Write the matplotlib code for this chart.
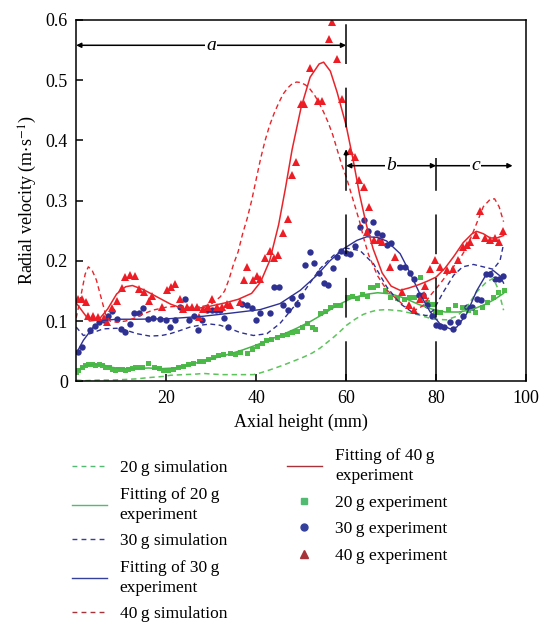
import matplotlib.pyplot as plt
from matplotlib.lines import Line2D

plt.rcParams['font.family'] = ['Liberation Serif', 'DejaVu Serif']
plt.rcParams['mathtext.fontset'] = 'stix'

# ---- data ----
# 20 g
sim20_x = [0, 2, 5, 8, 11, 13.5, 16, 19.4, 21, 24, 26.8, 28.3, 30, 32.7, 35, 37, 39.4, 41, 43.1,
           45, 46.8, 48.5, 50.5, 52.5, 54.2, 55.7, 57.2, 58.7, 60.1, 62, 63.8, 65.3, 66.8, 69, 72,
           75.7, 79.4, 82.4, 84.6, 86.8, 89, 91.2, 92.7, 93.8, 95]
sim20_y = [0.002, 0.001, 0.002, 0.002, 0.003, 0.004, 0.006, 0.008, 0.010, 0.011, 0.012, 0.013, 0.012,
           0.011, 0.011, 0.011, 0.011, 0.014, 0.019, 0.024, 0.029, 0.034, 0.040, 0.047, 0.055, 0.064,
           0.073, 0.083, 0.093, 0.103, 0.111, 0.115, 0.118, 0.119, 0.117, 0.111, 0.103, 0.102, 0.108,
           0.123, 0.148, 0.165, 0.171, 0.153, 0.118]
fit20_x = [0, 2, 4, 6, 8, 10, 13, 16, 19, 22, 25, 28, 31, 34, 37, 40, 43, 46, 49, 52, 55, 58, 61,
           64, 67, 70, 73, 76, 79, 82, 85, 88, 91, 93, 95]
fit20_y = [0.016, 0.026, 0.028, 0.027, 0.023, 0.021, 0.021, 0.022, 0.021, 0.022, 0.027, 0.033, 0.039,
           0.045, 0.052, 0.060, 0.069, 0.078, 0.088, 0.099, 0.112, 0.126, 0.137, 0.144, 0.147, 0.145,
           0.138, 0.128, 0.120, 0.115, 0.115, 0.119, 0.128, 0.136, 0.146]
exp20_x = [0, 0.5, 1.3, 2, 2.7, 3.5, 4.2, 5, 5.7, 6.4, 7.2, 7.9, 8.7, 9.4, 10.1, 10.9, 11.6, 12.4,
           13.1, 13.9, 14.6, 15.9, 17.2, 18.3, 19.4, 20.5, 21.6, 22.7, 23.8, 24.9, 26, 27.2, 28.3,
           29.4, 30.5, 31.6, 32.7, 34.2, 35.3, 36.4, 37.9, 39, 40.1, 41.2, 42.3, 43.4, 44.6, 45.7,
           46.8, 47.9, 49, 50.1, 51.3, 52.4, 53.1, 54.2, 55.3, 56.4, 57.5, 58.7, 60.1, 61.2, 62.4,
           63.5, 64.6, 65.3, 66, 66.8, 68.6, 69.8, 71.3, 72.8, 73.9, 75, 76.4, 77.9, 79, 79.8, 80.9,
           82.7, 84.2, 85.7, 87.2, 88.7, 90.2, 91.3, 92.7, 93.8, 95]
exp20_y = [0.015, 0.018, 0.023, 0.027, 0.028, 0.028, 0.027, 0.028, 0.027, 0.024, 0.023, 0.020, 0.019,
           0.020, 0.020, 0.019, 0.020, 0.022, 0.023, 0.023, 0.023, 0.030, 0.023, 0.022, 0.019, 0.018,
           0.020, 0.023, 0.025, 0.028, 0.030, 0.033, 0.034, 0.037, 0.040, 0.043, 0.045, 0.047, 0.045,
           0.049, 0.047, 0.053, 0.059, 0.064, 0.068, 0.070, 0.073, 0.076, 0.078, 0.081, 0.084, 0.090,
           0.096, 0.090, 0.087, 0.113, 0.117, 0.123, 0.126, 0.127, 0.140, 0.142, 0.139, 0.145, 0.142,
           0.157, 0.156, 0.160, 0.151, 0.140, 0.139, 0.137, 0.140, 0.140, 0.173, 0.132, 0.129, 0.115,
           0.115, 0.120, 0.127, 0.123, 0.118, 0.115, 0.123, 0.132, 0.140, 0.148, 0.151]

# 30 g
sim30_x = [0, 1.6, 3.1, 6, 9, 11, 13.5, 16.4, 19, 20.9, 23, 25.3, 27.5, 29.8, 32, 34, 36.4, 39.4,
           42.4, 45.3, 48.3, 51.3, 54.2, 57.2, 60.1, 63.1, 66.1, 69, 72, 75, 77.9, 79.4, 81.6, 83.9,
           85.9, 88.3, 90.5, 92.7, 94.2, 95]
sim30_y = [0.090, 0.076, 0.079, 0.087, 0.088, 0.085, 0.079, 0.075, 0.076, 0.079, 0.084, 0.090, 0.093,
           0.095, 0.093, 0.088, 0.081, 0.076, 0.079, 0.096, 0.123, 0.156, 0.187, 0.209, 0.221, 0.217,
           0.195, 0.157, 0.129, 0.113, 0.109, 0.118, 0.148, 0.176, 0.190, 0.194, 0.190, 0.186, 0.200,
           0.228]
fit30_x = [0, 1.6, 3.8, 6, 9, 13.5, 20.9, 28.3, 34.2, 40.9, 45.3, 49.8, 53.5, 56.4, 59.4, 62.4,
           64.6, 66.8, 69, 72, 74.2, 76.4, 78.7, 80.9, 83.1, 84.6, 86.8, 89, 91.2, 92.7, 94.2, 95]
fit30_y = [0.046, 0.068, 0.090, 0.101, 0.103, 0.103, 0.104, 0.108, 0.113, 0.119, 0.129, 0.151, 0.176,
           0.200, 0.220, 0.234, 0.240, 0.239, 0.233, 0.212, 0.180, 0.145, 0.115, 0.095, 0.087, 0.090,
           0.112, 0.150, 0.178, 0.184, 0.175, 0.163]
exp30_x = [0.3, 1.3, 3.1, 4.2, 5, 6.1, 7, 7.9, 9, 10, 10.9, 11.9, 12.9, 13.9, 14.8, 15.9, 17, 18.7,
           20, 20.9, 22, 23.1, 24.1, 25, 26.1, 27, 28, 29, 30.1, 31.1, 32, 32.9, 33.8, 36.8, 37.9,
           39, 40, 40.9, 43, 43.9, 45, 45.9, 47, 47.9, 49, 49.9, 50.9, 52, 52.9, 53.9, 55, 55.9, 57,
           57.9, 58.9, 60, 60.9, 62, 63.1, 63.9, 64.8, 65.9, 66.8, 67.9, 69, 70, 72, 73, 74.1, 75,
           76.1, 77, 77.9, 79, 80, 80.9, 81.8, 83, 83.8, 84.9, 86, 86.9, 87.9, 89, 89.9, 91, 92, 93,
           93.9, 94.9]
exp30_y = [0.048, 0.057, 0.085, 0.091, 0.099, 0.101, 0.108, 0.116, 0.103, 0.087, 0.081, 0.095, 0.113,
           0.113, 0.121, 0.103, 0.105, 0.103, 0.101, 0.090, 0.101, 0.123, 0.137, 0.102, 0.108, 0.085,
           0.102, 0.118, 0.118, 0.118, 0.118, 0.105, 0.090, 0.129, 0.126, 0.122, 0.101, 0.113, 0.113,
           0.156, 0.156, 0.126, 0.119, 0.139, 0.128, 0.141, 0.193, 0.215, 0.196, 0.180, 0.163, 0.160,
           0.188, 0.206, 0.217, 0.213, 0.211, 0.224, 0.257, 0.268, 0.249, 0.264, 0.247, 0.243, 0.226,
           0.230, 0.190, 0.189, 0.179, 0.169, 0.143, 0.143, 0.126, 0.109, 0.094, 0.091, 0.090, 0.098,
           0.087, 0.098, 0.109, 0.123, 0.123, 0.137, 0.135, 0.178, 0.178, 0.169, 0.169, 0.174]

# 40 g
sim40_x = [0, 1, 2, 2.7, 3.5, 4.5, 5.5, 6.5, 7.5, 9, 11, 13, 15, 17, 20, 23, 26, 28, 30, 32, 33,
           34, 35, 36, 37, 38, 39, 40, 41, 42, 43, 44, 45, 46, 47, 48, 49, 50, 51, 52, 53, 54, 55,
           56, 57, 58, 59, 60, 61, 62, 63, 64, 65, 67, 69, 71, 73, 75, 77, 79, 81, 83, 85, 87, 89,
           90.5, 92, 93, 94, 95]
sim40_y = [0.105, 0.140, 0.178, 0.190, 0.185, 0.168, 0.140, 0.112, 0.100, 0.098, 0.100, 0.105, 0.112,
           0.118, 0.123, 0.125, 0.122, 0.124, 0.128, 0.140, 0.150, 0.170, 0.195, 0.215, 0.245, 0.270,
           0.300, 0.335, 0.370, 0.400, 0.425, 0.445, 0.462, 0.477, 0.487, 0.494, 0.497, 0.496, 0.492,
           0.485, 0.475, 0.462, 0.447, 0.430, 0.410, 0.385, 0.360, 0.340, 0.315, 0.290, 0.265, 0.235,
           0.210, 0.175, 0.152, 0.138, 0.125, 0.117, 0.125, 0.145, 0.163, 0.183, 0.200, 0.225, 0.262,
           0.290, 0.302, 0.303, 0.290, 0.265]
fit40_x = [0, 1.5, 3, 5, 7, 9, 11, 12.5, 15, 18, 21, 24, 27, 30, 33, 36, 39, 41, 43, 45, 46.5, 48,
           50, 52, 54, 55, 56.5, 58, 60, 61.5, 63, 64.5, 66, 68, 70, 72, 74, 76, 78, 80, 82, 84, 86,
           88, 89, 90.5, 92, 93.5, 95]
fit40_y = [0.130, 0.115, 0.100, 0.102, 0.120, 0.145, 0.157, 0.159, 0.152, 0.140, 0.128, 0.120, 0.121,
           0.125, 0.130, 0.136, 0.146, 0.165, 0.200, 0.260, 0.320, 0.385, 0.455, 0.505, 0.527, 0.530,
           0.515, 0.480, 0.425, 0.370, 0.310, 0.260, 0.220, 0.180, 0.158, 0.151, 0.155, 0.160, 0.166,
           0.173, 0.188, 0.208, 0.230, 0.245, 0.249, 0.245, 0.238, 0.238, 0.242]
exp40_x = [0.3, 1.2, 2.2, 2.7, 3.8, 4.9, 6.1, 6.8, 7.9, 9, 10.2, 10.9, 12, 13.1, 13.9, 15, 16.1, 16.8,
           19, 20.1, 21, 22, 23.1, 23.7, 24.6, 25.7, 26.8, 27.2, 28.3, 29.4, 30.1, 31.3, 32.4, 33.5,
           34.2, 36.4, 37.2, 37.9, 39.2, 40.1, 40.9, 42, 43, 44, 44.9, 45.9, 47, 47.9, 48.9, 50, 50.7,
           51.9, 53.7, 54.6, 56.1, 56.8, 57.9, 59.1, 60.9, 62, 62.9, 63.9, 64.6, 65, 66.1, 67.2, 68,
           69.8, 70.9, 72.4, 73.9, 75, 76.4, 77.2, 77.6, 78.7, 79.8, 80.9, 82.4, 83.7, 84.9, 85.9,
           86.9, 87.5, 88.9, 89.8, 90.9, 92, 93.1, 94, 94.9]
exp40_y = [0.137, 0.137, 0.131, 0.108, 0.108, 0.106, 0.105, 0.099, 0.121, 0.133, 0.155, 0.173, 0.176,
           0.175, 0.154, 0.148, 0.134, 0.142, 0.123, 0.151, 0.156, 0.162, 0.137, 0.120, 0.123, 0.123,
           0.123, 0.107, 0.120, 0.124, 0.137, 0.123, 0.124, 0.128, 0.126, 0.132, 0.168, 0.189, 0.168,
           0.175, 0.170, 0.204, 0.216, 0.205, 0.210, 0.247, 0.270, 0.343, 0.364, 0.461, 0.461, 0.521,
           0.465, 0.465, 0.569, 0.597, 0.536, 0.468, 0.382, 0.373, 0.334, 0.323, 0.248, 0.290, 0.234,
           0.234, 0.232, 0.190, 0.206, 0.148, 0.126, 0.118, 0.137, 0.143, 0.159, 0.187, 0.202, 0.190,
           0.184, 0.187, 0.201, 0.223, 0.226, 0.232, 0.243, 0.283, 0.238, 0.234, 0.238, 0.232, 0.249]

# colours
green_l = '#5cc45a'
green = '#46b449'
blue = '#2e3192'
red = '#e8242a'

fig = plt.figure(figsize=(5.48, 6.25), dpi=100)
ax = fig.add_axes([0.139, 0.390, 0.821, 0.578])

dash = (0, (3.5, 2.5))
ax.plot(exp20_x, exp20_y, 's', color='#4cbb48', ms=3.6, mew=0)
ax.plot(exp30_x, exp30_y, 'o', color=blue, ms=4.6, mew=0)
ax.plot(exp40_x, exp40_y, '^', color='#ee1c24', ms=5.4, mew=0)
ax.plot(sim20_x, sim20_y, color=green_l, lw=1.1, ls=dash)
ax.plot(fit20_x, fit20_y, color=green, lw=1.1)
ax.plot(sim30_x, sim30_y, color=blue, lw=1.0, ls=dash)
ax.plot(fit30_x, fit30_y, color=blue, lw=1.0)
ax.plot(sim40_x, sim40_y, color=red, lw=1.0, ls=dash)
ax.plot(fit40_x, fit40_y, color=red, lw=1.1)

# zone dividers
ax.plot([60, 60], [0, 0.6], color='black', lw=1.1, ls=(0, (26, 15.5)))
ax.plot([80, 80], [0, 0.371], color='black', lw=1.1, ls=(0, (26, 15.5)))
ax.annotate('', xy=(60, 0.39), xytext=(60, 0.37),
            arrowprops=dict(arrowstyle='-|>', color='black', lw=1.0, mutation_scale=7))

arr = dict(color='black', lw=1.1, mutation_scale=7, shrinkA=0, shrinkB=0)
ax.annotate('', xy=(0, 0.558), xytext=(60, 0.558), arrowprops=dict(arrowstyle='<|-|>', **arr))
ax.annotate('', xy=(60, 0.358), xytext=(80, 0.358), arrowprops=dict(arrowstyle='<|-|>', **arr))
ax.annotate('', xy=(80, 0.358), xytext=(97, 0.358), arrowprops=dict(arrowstyle='<|-', **arr))
lbl = dict(style='italic', fontsize=14, ha='center', va='center',
           bbox=dict(facecolor='white', edgecolor='none', pad=1))
ax.text(30, 0.558, 'a', **lbl)
ax.text(70, 0.358, 'b', **lbl)
ax.text(88.7, 0.358, 'c', **lbl)

ax.set_xlim(0, 100)
ax.set_ylim(0, 0.6)
ax.set_xticks([20, 40, 60, 80, 100])
ax.set_yticks([0, 0.1, 0.2, 0.3, 0.4, 0.5, 0.6])
ax.set_yticklabels(['0', '0.1', '0.2', '0.3', '0.4', '0.5', '0.6'])
ax.tick_params(direction='in', length=5, width=1.1, labelsize=13, pad=6)
for s in ax.spines.values():
    s.set_linewidth(1.1)
ax.set_xlabel('Axial height (mm)', fontsize=13, labelpad=5)
ax.set_ylabel('Radial velocity (m$\\cdot$s$^{-1}$)', fontsize=13, labelpad=5)

# legend
lg_green = '#52bb72'
lg_blue = '#34409c'
lg_red = '#a8323a'
handles = [
    Line2D([], [], color=lg_green, lw=1.0, ls=(0, (3.5, 3))),
    Line2D([], [], color=lg_green, lw=1.0),
    Line2D([], [], color=lg_blue, lw=1.0, ls=(0, (3.5, 3))),
    Line2D([], [], color=lg_blue, lw=1.0),
    Line2D([], [], color=lg_red, lw=1.0, ls=(0, (3.5, 3))),
    Line2D([], [], color=lg_red, lw=1.0),
    Line2D([], [], color=lg_green, marker='s', ls='none', ms=5),
    Line2D([], [], color=lg_blue, marker='o', ls='none', ms=5),
    Line2D([], [], color=lg_red, marker='^', ls='none', ms=5.5),
]
labels = ['20\u2009g simulation', 'Fitting of 20\u2009g\nexperiment', '30\u2009g simulation',
          'Fitting of 30\u2009g\nexperiment', '40\u2009g simulation',
          'Fitting of 40\u2009g\nexperiment', '20\u2009g experiment', '30\u2009g experiment',
          '40\u2009g experiment']
leg = fig.legend(handles, labels, loc='upper left', bbox_to_anchor=(72 / 548, 1 - 448 / 625), ncol=2,
                 frameon=False, fontsize=12.5, handlelength=2.0, handletextpad=0.75, columnspacing=3.45,
                 labelspacing=0.6, borderpad=0, borderaxespad=0)
for t in leg.get_texts():
    t.set_linespacing(1.35)

plt.savefig('out.png', dpi=100)
